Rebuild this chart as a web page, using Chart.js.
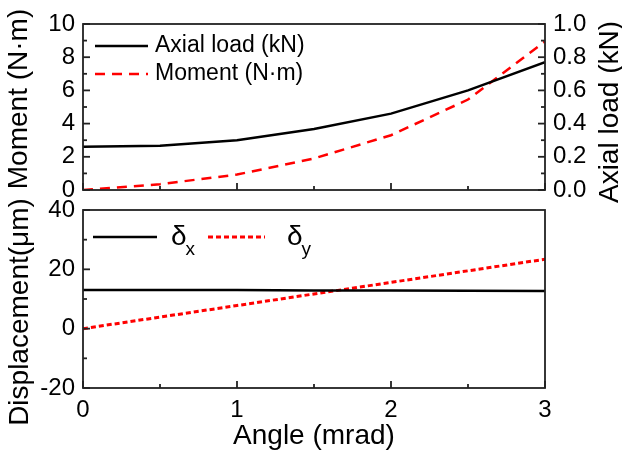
<!DOCTYPE html>
<html>
<head>
<meta charset="utf-8">
<script src="https://cdn.jsdelivr.net/npm/chart.js@4"></script>
<style>
    html, body { margin: 0; padding: 0; background: #fff; }
    #tela { position: relative; width: 622px; height: 453px; }
    #tela canvas { position: absolute; left: 0; top: 0; }
</style>
</head>
<body>
<div id="tela">
    <canvas id="grafico_topo" width="622" height="453"></canvas>
    <canvas id="grafico_baixo" width="622" height="453"></canvas>
</div>
<script>
// dados
const angulos = [0, 0.5, 1, 1.5, 2, 2.5, 3];
const cargaAxial = [0.26, 0.267, 0.30, 0.367, 0.46, 0.60, 0.77];
const momento = [0, 0.35, 0.93, 1.9, 3.3, 5.45, 8.95];
const deltaX = [13.0, 13.0, 13.0, 12.9, 12.9, 12.8, 12.7];
const deltaY = [0, 3.9, 7.8, 11.7, 15.6, 19.5, 23.4];

const FONTE = "'Liberation Sans', Arial, sans-serif";
const fonteTick = { family: FONTE, size: 24 };

function pontos(ys) {
    return angulos.map((a, i) => ({ x: a, y: ys[i] }));
}

// moldura, ticks para dentro, titulos verticais e legenda
const desenhoExtra = {
    id: 'desenhoExtra',
    afterDraw(chart, args, opts) {
        const ctx = chart.ctx, area = chart.chartArea;
        ctx.save();
        ctx.strokeStyle = '#222';
        ctx.lineWidth = 1.8;
        ctx.strokeRect(area.left, area.top, area.right - area.left, area.bottom - area.top);

        opts.marcas.forEach(m => {
            const s = chart.scales[m.eixo];
            const n = Math.round((s.max - s.min) / m.passo);
            for (let i = 0; i <= n; i++) {
                const v = s.min + i * m.passo;
                const r = v / m.maior;
                const len = Math.abs(r - Math.round(r)) < 1e-6 ? 7 : 4;
                const p = s.getPixelForValue(v);
                ctx.beginPath();
                if (m.lado === 'left') { ctx.moveTo(area.left, p); ctx.lineTo(area.left + len, p); }
                if (m.lado === 'right') { ctx.moveTo(area.right, p); ctx.lineTo(area.right - len, p); }
                if (m.lado === 'bottom') { ctx.moveTo(p, area.bottom); ctx.lineTo(p, area.bottom - len); }
                ctx.stroke();
            }
        });

        ctx.fillStyle = '#000';
        ctx.textBaseline = 'alphabetic';
        ctx.textAlign = 'center';
        opts.titulos.forEach(t => {
            ctx.save();
            ctx.translate(t.x, t.y);
            ctx.rotate(-Math.PI / 2);
            ctx.font = '28px ' + FONTE;
            ctx.fillText(t.texto, 0, 0);
            ctx.restore();
        });

        ctx.textAlign = 'left';
        ctx.textBaseline = 'middle';
        opts.legenda.forEach(l => {
            ctx.beginPath();
            ctx.strokeStyle = l.cor;
            ctx.lineWidth = l.largura;
            ctx.setLineDash(l.traco);
            ctx.moveTo(l.x1, l.y);
            ctx.lineTo(l.x2, l.y);
            ctx.stroke();
            ctx.setLineDash([]);
            ctx.font = l.tamanho + 'px ' + FONTE;
            ctx.fillText(l.texto, l.tx, l.y);
            if (l.sub) {
                const w = ctx.measureText(l.texto).width;
                ctx.font = '19px ' + FONTE;
                ctx.fillText(l.sub, l.tx + w - 1, l.y + 13);
            }
        });
        ctx.restore();
    }
};

const semGrade = { display: false, drawTicks: false };

new Chart(document.getElementById('grafico_topo'), {
    type: 'line',
    data: {
        datasets: [{
            label: 'Axial load (kN)',
            data: pontos(cargaAxial),
            yAxisID: 'y1',
            borderColor: '#000000',
            borderWidth: 2.5,
            pointRadius: 0,
            tension: 0
        }, {
            label: 'Moment (N·m)',
            data: pontos(momento),
            yAxisID: 'y',
            borderColor: '#ff0000',
            borderWidth: 2.5,
            borderDash: [10, 7],
            pointRadius: 0,
            tension: 0
        }]
    },
    options: {
        responsive: false,
        animation: false,
        layout: { padding: { top: 24, bottom: 263, left: 0, right: 0 } },
        plugins: {
            legend: { display: false },
            tooltip: { enabled: false },
            desenhoExtra: {
                marcas: [
                    { eixo: 'y', lado: 'left', passo: 1, maior: 2 },
                    { eixo: 'y1', lado: 'right', passo: 0.1, maior: 0.2 },
                    { eixo: 'x', lado: 'bottom', passo: 0.5, maior: 1 }
                ],
                titulos: [
                    { texto: 'Moment (N·m)', x: 27, y: 99 },
                    { texto: 'Axial load (kN)', x: 618, y: 112 }
                ],
                legenda: [
                    { texto: 'Axial load (kN)', cor: '#000000', largura: 2.5, traco: [], x1: 95, x2: 148, tx: 155, y: 46, tamanho: 23 },
                    { texto: 'Moment (N·m)', cor: '#ff0000', largura: 2.5, traco: [10, 7], x1: 95, x2: 148, tx: 155, y: 74, tamanho: 23 }
                ]
            }
        },
        scales: {
            x: {
                type: 'linear', min: 0, max: 3,
                ticks: { display: false },
                grid: semGrade,
                border: { display: false },
                afterFit(s) { s.height = 0; }
            },
            y: {
                position: 'left', min: 0, max: 10,
                ticks: { stepSize: 2, padding: 8, color: '#000', font: fonteTick },
                grid: semGrade,
                border: { display: false },
                afterFit(s) { s.width = 83; }
            },
            y1: {
                position: 'right', min: 0, max: 1,
                ticks: { stepSize: 0.2, padding: 8, color: '#000', font: fonteTick, callback: v => v.toFixed(1) },
                grid: semGrade,
                border: { display: false },
                afterFit(s) { s.width = 77; }
            }
        }
    },
    plugins: [desenhoExtra]
});

new Chart(document.getElementById('grafico_baixo'), {
    type: 'line',
    data: {
        datasets: [{
            label: 'δx',
            data: pontos(deltaX),
            borderColor: '#000000',
            borderWidth: 2.5,
            pointRadius: 0,
            tension: 0
        }, {
            label: 'δy',
            data: pontos(deltaY),
            borderColor: '#ff0000',
            borderWidth: 3,
            borderDash: [5, 3],
            pointRadius: 0,
            tension: 0
        }]
    },
    options: {
        responsive: false,
        animation: false,
        layout: { padding: { top: 210, bottom: 0, left: 0, right: 77 } },
        plugins: {
            legend: { display: false },
            tooltip: { enabled: false },
            desenhoExtra: {
                marcas: [
                    { eixo: 'y', lado: 'left', passo: 10, maior: 20 },
                    { eixo: 'x', lado: 'bottom', passo: 0.5, maior: 1 }
                ],
                titulos: [
                    { texto: 'Displacement(μm)', x: 28, y: 312 }
                ],
                legenda: [
                    { texto: 'δ', sub: 'x', cor: '#000000', largura: 2.5, traco: [], x1: 93, x2: 157, tx: 171, y: 237, tamanho: 28 },
                    { texto: 'δ', sub: 'y', cor: '#ff0000', largura: 3, traco: [5, 3], x1: 208, x2: 265, tx: 287, y: 237, tamanho: 28 }
                ]
            }
        },
        scales: {
            x: {
                type: 'linear', min: 0, max: 3,
                ticks: { stepSize: 1, padding: 8, color: '#000', font: fonteTick },
                grid: semGrade,
                border: { display: false },
                title: { display: true, text: 'Angle (mrad)', color: '#000', font: { family: FONTE, size: 28 }, padding: { top: 0, bottom: 0 } },
                afterFit(s) { s.height = 65; }
            },
            y: {
                position: 'left', min: -20, max: 40,
                ticks: { stepSize: 20, padding: 8, color: '#000', font: fonteTick },
                grid: semGrade,
                border: { display: false },
                afterFit(s) { s.width = 83; }
            }
        }
    },
    plugins: [desenhoExtra]
});
</script>
</body>
</html>
